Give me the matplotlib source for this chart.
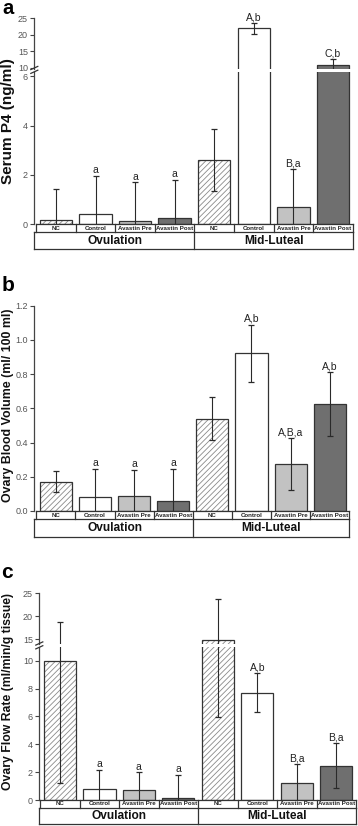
import matplotlib
matplotlib.use("Agg")
import matplotlib.pyplot as plt
from matplotlib.lines import Line2D

plt.rcParams['font.family'] = ['Liberation Sans', 'DejaVu Sans']
plt.rcParams['hatch.linewidth'] = 0.6

categories = ["NC", "Control", "Avastin Pre", "Avastin Post"]
groups = ["Ovulation", "Mid-Luteal"]

p4_mean = [0.17, 0.43, 0.15, 0.24, 2.60, 21.9, 0.69, 10.8]
p4_err = [1.25, 1.54, 1.55, 1.55, 1.25, 1.6, 1.55, 1.7]
p4_labels = ["", "a", "a", "a", "", "A,b", "B,a", "C,b"]

bv_mean = [0.171, 0.084, 0.088, 0.061, 0.539, 0.922, 0.276, 0.627]
bv_err = [0.06, 0.163, 0.153, 0.186, 0.125, 0.168, 0.152, 0.187]
bv_labels = ["", "a", "a", "a", "", "A,b", "A,B,a", "A,b"]

fr_mean = [10.0, 0.77, 0.69, 0.14, 14.85, 7.70, 1.24, 2.46]
fr_err = [8.8, 1.38, 1.30, 1.65, 8.9, 1.4, 1.32, 1.6]
fr_labels = ["", "a", "a", "a", "", "A,b", "B,a", "B,a"]

fills = ["white", "white", "#c2c2c2", "#6f6f6f"]
EDGE = "#333333"
TICKC = "#555555"

W, H = 358, 826
fig = plt.figure(figsize=(W / 100, H / 100), dpi=100)


def px_axes(l, t, r, b):
    return fig.add_axes([l / W, 1 - b / H, (r - l) / W, (b - t) / H])


def style(ax, xlim, ylim, ticks, fmt):
    ax.set_xlim(*xlim)
    ax.set_ylim(*ylim)
    for s in ["top", "right", "bottom"]:
        ax.spines[s].set_visible(False)
    ax.spines["left"].set_color("#444444")
    ax.spines["left"].set_linewidth(0.9)
    ax.set_xticks([])
    ax.set_yticks(ticks)
    ax.set_yticklabels([fmt.format(t) for t in ticks])
    ax.tick_params(axis="y", length=3, width=0.8, colors="#444444",
                   labelsize=6.5, labelcolor=TICKC, pad=1.5)
    ax.patch.set_alpha(0)


def draw_bars(ax, means, errs, labels, width=0.82):
    x = list(range(len(means)))
    for i in x:
        kind = i % 4
        if kind == 0:
            ax.bar(i, means[i], width, color="white", edgecolor="#8a8a8a",
                   linewidth=0, hatch="//////", zorder=2)
        else:
            ax.bar(i, means[i], width, color=fills[kind], linewidth=0, zorder=2)
        ax.bar(i, means[i], width, fill=False, edgecolor=EDGE, linewidth=0.9, zorder=3)
    ax.errorbar(x, means, yerr=errs, fmt="none", ecolor="#2a2a2a",
                elinewidth=0.8, capsize=2.2, capthick=0.9, zorder=4)
    lo, hi = ax.get_ylim()
    for i in x:
        top = means[i] + errs[i]
        if labels[i] and lo <= top <= hi:
            ax.annotate(labels[i], (i, top), xytext=(0, 0.5),
                        textcoords="offset points", ha="center", va="bottom",
                        fontsize=7.5, color="#222222")


def draw_table(l, t, mid, b, r, xlim):
    tax = px_axes(l, t, r, b)
    tax.set_xlim(*xlim)
    tax.set_ylim(0, 1)
    tax.axis("off")
    rf = (b - mid) / (b - t)
    kw = dict(color="#333333", lw=0.9, clip_on=False)
    tax.plot([-0.5, 7.5], [1, 1], **kw)
    tax.plot([xlim[0], 7.5], [rf, rf], **kw)
    tax.plot([xlim[0], 7.5], [0, 0], **kw)
    for i in range(9):
        tax.plot([i - 0.5, i - 0.5], [rf, 1], **kw)
    for xv in [xlim[0], 3.5, 7.5]:
        tax.plot([xv, xv], [0, rf], **kw)
    for i in range(8):
        tax.text(i, (1 + rf) / 2, categories[i % 4], ha="center", va="center",
                 fontsize=4.4, fontweight="bold", color="#222222")
    for g, gx in zip(groups, [1.5, 5.5]):
        tax.text(gx, rf / 2, g, ha="center", va="center", fontsize=8.6,
                 fontweight="bold", color="#111111")


def break_marks(x, y1, y2, dx=3.5, dy=1.6):
    for y in (y1, y2):
        fig.add_artist(Line2D([(x - dx) / W, (x + dx) / W],
                              [1 - (y + dy) / H, 1 - (y - dy) / H],
                              color="#333333", lw=0.9))


# ---------- Panel a ----------
L, R = 34.3, 352.7
xl = (-0.55, 7.5)
ax_up = px_axes(L, 18.3, R, 68.8)
style(ax_up, xl, (25 - (68.8 - 18.3) / 3.29, 25), [10, 15, 20, 25], "{:d}")
draw_bars(ax_up, p4_mean, p4_err, p4_labels)
ax_lo = px_axes(L, 71.5, R, 224.3)
style(ax_lo, xl, (0, (224.3 - 71.5) / 24.7), [0, 2, 4, 6], "{:d}")
draw_bars(ax_lo, p4_mean, p4_err, p4_labels)
break_marks(L, 68.0, 71.8)
draw_table(L, 224.3, 232.3, 249.3, R, xl)
fig.text(2 / W, 1 - 14 / H, "a", fontsize=14.5, fontweight="bold", va="baseline")
fig.text(8.3 / W, 1 - 121 / H, "Serum P4 (ng/ml)", rotation=90, ha="center",
         va="center", fontsize=11, fontweight="bold", color="#111111")

# ---------- Panel b ----------
L, R = 34.3, 349.3
ax_b = px_axes(L, 305.7, R, 511)
style(ax_b, xl, (0, 1.2), [0.0, 0.2, 0.4, 0.6, 0.8, 1.0, 1.2], "{:.1f}")
draw_bars(ax_b, bv_mean, bv_err, bv_labels)
draw_table(L, 511, 519.3, 536.7, R, xl)
fig.text(2 / W, 1 - 291 / H, "b", fontsize=15, fontweight="bold", va="baseline")
fig.text(7.8 / W, 1 - 405 / H, "Ovary Blood Volume (ml/ 100 ml)", rotation=90,
         ha="center", va="center", fontsize=8.9, fontweight="bold", color="#111111")

# ---------- Panel c ----------
L, R = 39.3, 356
xl_c = (-0.52, 7.5)
ax_cu = px_axes(L, 593.3, R, 644)
style(ax_cu, xl_c, (25 - (644 - 593.3) / 4.6, 25), [15, 20, 25], "{:d}")
draw_bars(ax_cu, fr_mean, fr_err, fr_labels)
ax_cl = px_axes(L, 647, R, 800)
style(ax_cl, xl_c, (0, (800 - 647) / 13.93), [0, 2, 4, 6, 8, 10], "{:d}")
draw_bars(ax_cl, fr_mean, fr_err, fr_labels)
break_marks(L, 643.5, 647.3)
draw_table(L, 800, 807.5, 824.3, R, xl_c)
fig.text(1 / W, 1 - 578 / H, "c", fontsize=15, fontweight="bold", va="baseline")
fig.text(8 / W, 1 - 692 / H, "Ovary Flow Rate (ml/min/g tissue)", rotation=90,
         ha="center", va="center", fontsize=8.8, fontweight="bold", color="#111111")

fig.savefig("out.png", dpi=100)
